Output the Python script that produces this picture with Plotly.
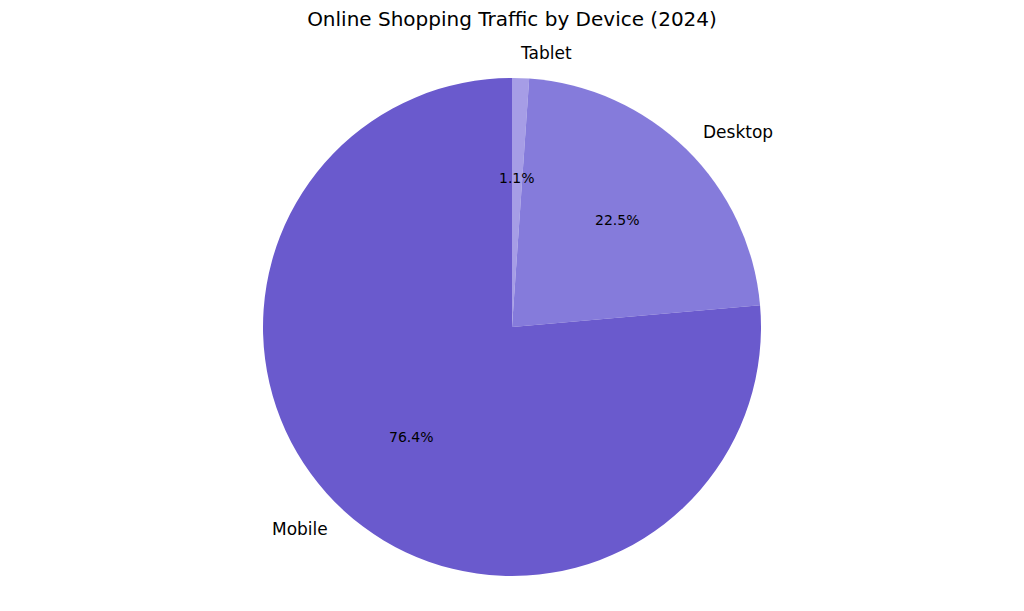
import math
import plotly.graph_objects as go

# data
devices = ['Tablet', 'Desktop', 'Mobile']
share = [1.1, 22.5, 76.4]
colors = ['#a69de6', '#857bdb', '#6a5acd']

# the page body has an 8px margin, so the autosized div is 1008x595
W, H = 1008, 595
mt, mb = 70, 27
plot_h = H - mt - mb
R_PIX = plot_h / 2  # pie radius in px

fig = go.Figure()
fig.add_trace(go.Pie(
    labels=devices,
    values=share,
    sort=False,
    direction='clockwise',
    rotation=0,
    marker=dict(colors=colors, line=dict(width=0)),
    textinfo='none',
    hoverinfo='label+percent',
    showlegend=False,
))

# matplotlib-style labels: names at 1.1 r, percents at 0.6 r
r_x = R_PIX / W
r_y = R_PIX / plot_h
total = sum(share)
cum = 0
annotations = []
for name, v in zip(devices, share):
    mid = (cum + v / 2) / total * 2 * math.pi
    cum += v
    s, c = math.sin(mid), math.cos(mid)
    annotations.append(dict(
        x=0.5 + 1.1 * r_x * s, y=0.5 + 1.1 * r_y * c,
        xref='paper', yref='paper', text=name, showarrow=False,
        xanchor='left' if s > 0 else 'right', yanchor='middle',
        xshift=-3 if s > 0 else 3,  # annotation box padding
        font=dict(size=17, color='black'),
    ))
    annotations.append(dict(
        x=0.5 + 0.6 * r_x * s, y=0.5 + 0.6 * r_y * c,
        xref='paper', yref='paper', text='%.1f%%' % (v / total * 100),
        showarrow=False, xanchor='center', yanchor='middle',
        font=dict(size=14, color='black'),
    ))

fig.update_layout(
    autosize=True,
    title=dict(text='Online Shopping Traffic by Device (2024)', x=0.5, xanchor='center',
               y=0.981, yanchor='middle', font=dict(size=20, color='black')),
    font=dict(family='DejaVu Sans'),
    margin=dict(l=0, r=0, t=mt, b=mb),
    paper_bgcolor='white',
    annotations=annotations,
)

fig.write_html('out.html')
